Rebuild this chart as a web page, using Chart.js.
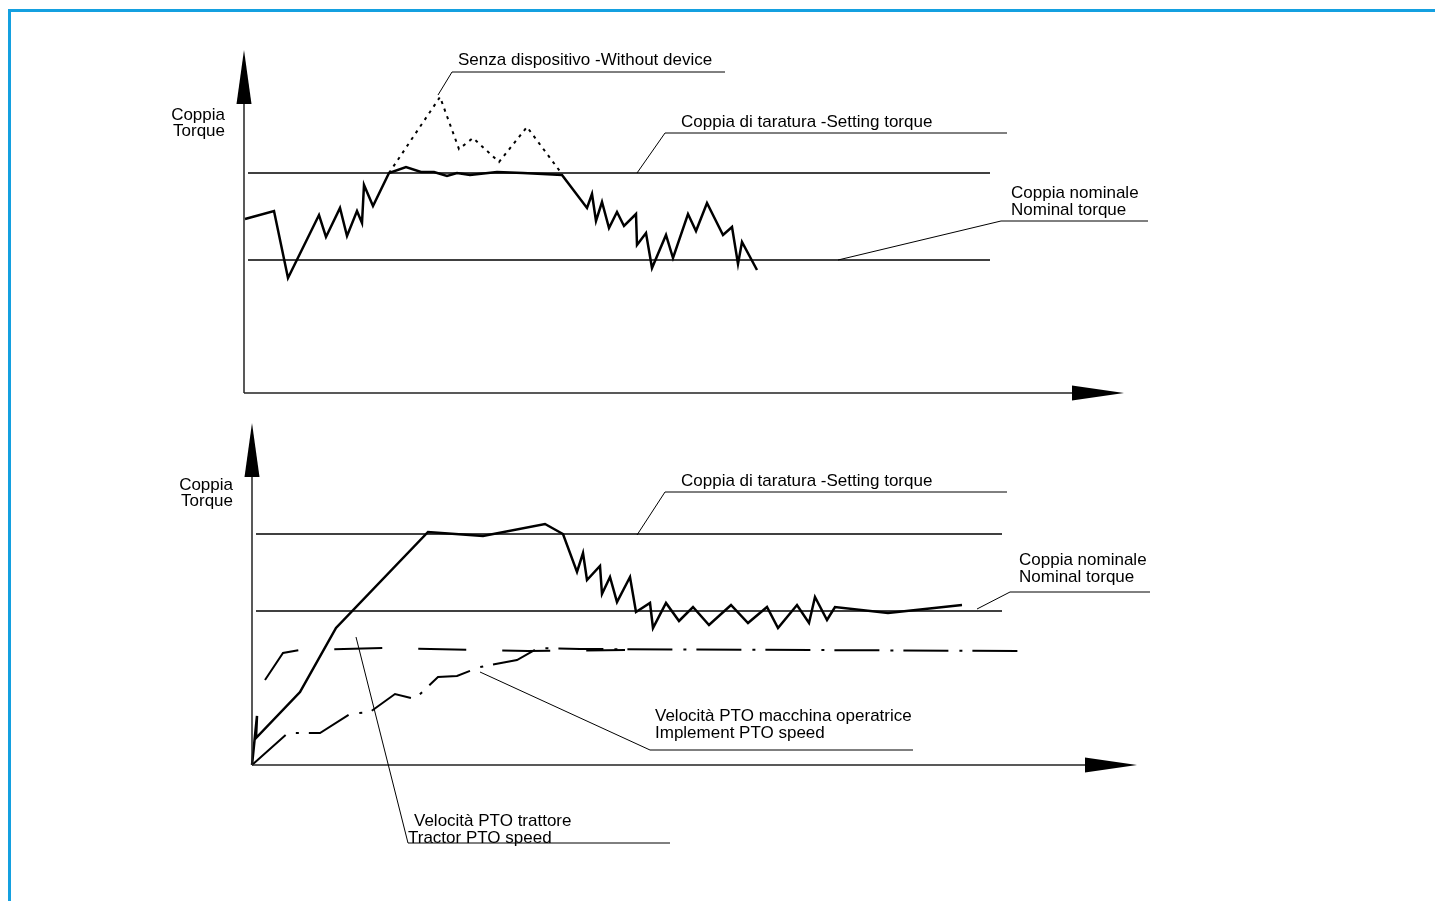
<!DOCTYPE html>
<html><head><meta charset="utf-8">
<script src="https://cdn.jsdelivr.net/npm/chart.js@4"></script>
<style>
html,body{margin:0;padding:0;background:#fff;width:1435px;height:901px;overflow:hidden;}
#frame{position:absolute;left:8px;top:9px;width:1427px;height:892px;border-top:3px solid #14a0e0;border-left:3px solid #14a0e0;box-sizing:border-box;}
canvas{position:absolute;left:0;top:0;}
</style></head><body>
<div id="frame"></div>
<canvas id="topChart" width="1435" height="901"></canvas>
<canvas id="bottomChart" width="1435" height="901"></canvas>
<script>
// ---------- DATA (arbitrary units: time from axis origin, torque / speed above axis) ----------
// Top panel: torque with the device (solid)
const topTime   = [1, 30, 44, 75, 82, 96, 103, 113, 118, 120, 129, 145, 162, 177, 190, 203, 213, 226, 253, 279, 318, 343, 348, 352, 358, 365, 373, 380, 392, 393, 402, 408, 422, 429, 444, 452, 463, 479, 488, 494, 498, 513];
const topTorque = [174, 182, 115, 178, 156, 185, 157, 182, 170, 208, 187, 220, 226, 221, 221, 217, 220, 218, 221, 220, 218, 185, 199, 172, 191, 165, 181, 167, 179, 148, 160, 125, 158, 135, 179, 162, 190, 158, 166, 129, 151, 123];
// Top panel: torque without device (dotted)
const noDeviceTime   = [145, 196, 215, 229, 255, 283, 318];
const noDeviceTorque = [220, 296, 244, 255, 231, 266, 219];
// Top panel reference torques
const topSettingTorque = 220;
const topNominalTorque = 133;
const topRefSpan = [4, 746];

// Bottom panel: torque (solid)
const bottomTime   = [0, 5, 4, 48, 84, 176, 231, 293, 311, 325, 331, 335, 348, 350, 358, 365, 378, 384, 398, 401, 414, 427, 441, 457, 479, 496, 515, 526, 545, 557, 563, 575, 583, 636, 710];
const bottomTorque = [0, 49, 27, 73, 137, 233, 229, 241, 231, 193, 212, 185, 199, 171, 188, 163, 188, 153, 162, 137, 162, 144, 158, 140, 160, 142, 158, 137, 160, 142, 168, 145, 158, 152, 160];
// Bottom panel: tractor PTO speed (long dashes)
const tractorTime  = [13, 31, 48, 131, 276, 373];
const tractorSpeed = [85, 112, 115, 117, 114, 115];
// Bottom panel: implement PTO speed (dash-dot)
const implementTime  = [0, 36, 68, 98, 118, 143, 163, 186, 205, 228, 265, 286, 328, 775];
const implementSpeed = [0, 32, 32, 51, 53, 71, 66, 88, 89, 98, 105, 117, 116, 114];
// Bottom panel reference torques
const bottomSettingTorque = 231;
const bottomNominalTorque = 154;
const bottomRefSpan = [4, 750];

// Texts
const axisLabel = ['Coppia', 'Torque'];
const labelNoDevice = ['Senza dispositivo -Without device'];
const labelSetting = ['Coppia di taratura -Setting torque'];
const labelNominal = ['Coppia nominale', 'Nominal torque'];
const labelImplement = ['Velocità PTO macchina operatrice', 'Implement PTO speed'];
const labelTractor = ['Velocità PTO trattore', 'Tractor PTO speed'];

// ---------- helpers ----------
const pts = (xs, ys) => xs.map((x, i) => ({x: x, y: ys[i]}));
const FONT = '17px "Liberation Sans", Arial, sans-serif';

function lineDs(data, width, dash) {
  return {data: data, showLine: true, borderColor: '#000', borderWidth: width,
    borderDash: dash || [], pointRadius: 0, pointHoverRadius: 0, fill: false, clip: false,
    borderJoinStyle: 'miter', borderCapStyle: 'butt', tension: 0};
}

function decoPlugin(deco) {
  return {
    id: 'deco',
    afterDatasetsDraw(chart) {
      const ctx = chart.ctx, xs = chart.scales.x, ys = chart.scales.y;
      const P = (t, v) => [xs.getPixelForValue(t), ys.getPixelForValue(v)];
      ctx.save();
      // axes with arrow heads
      const o = P(0, 0);
      const yTip = P(0, deco.yAxisEnd), xTip = P(deco.xAxisEnd, 0);
      ctx.strokeStyle = '#222'; ctx.fillStyle = '#000'; ctx.lineWidth = 1.5;
      ctx.beginPath(); ctx.moveTo(o[0], o[1]); ctx.lineTo(o[0], yTip[1] + 50); ctx.stroke();
      ctx.beginPath(); ctx.moveTo(o[0], o[1]); ctx.lineTo(xTip[0] - 50, o[1]); ctx.stroke();
      ctx.beginPath(); ctx.moveTo(o[0], yTip[1]); ctx.lineTo(o[0] - 7.5, yTip[1] + 54); ctx.lineTo(o[0] + 7.5, yTip[1] + 54); ctx.closePath(); ctx.fill();
      ctx.beginPath(); ctx.moveTo(xTip[0], o[1]); ctx.lineTo(xTip[0] - 52, o[1] - 7.5); ctx.lineTo(xTip[0] - 52, o[1] + 7.5); ctx.closePath(); ctx.fill();
      // leader lines
      ctx.strokeStyle = '#000'; ctx.lineWidth = 1;
      deco.leaders.forEach(l => {
        ctx.beginPath();
        l.forEach((p, i) => { const q = P(p[0], p[1]); if (i) ctx.lineTo(q[0], q[1]); else ctx.moveTo(q[0], q[1]); });
        ctx.stroke();
      });
      // texts
      ctx.font = FONT; ctx.fillStyle = '#000'; ctx.textBaseline = 'middle';
      deco.texts.forEach(tx => {
        ctx.textAlign = tx.align || 'left';
        tx.lines.forEach((s, i) => { const q = P(tx.at[i][0], tx.at[i][1]); ctx.fillText(s, q[0], q[1]); });
      });
      ctx.restore();
    }
  };
}

function makeChart(id, datasets, xr, yr, deco) {
  return new Chart(document.getElementById(id), {
    type: 'scatter',
    data: {datasets: datasets},
    options: {
      responsive: false, animation: false, devicePixelRatio: 1,
      layout: {padding: 0},
      events: [],
      scales: {
        x: {type: 'linear', min: xr[0], max: xr[1], display: false},
        y: {type: 'linear', min: yr[0], max: yr[1], display: false}
      },
      plugins: {legend: {display: false}, tooltip: {enabled: false}}
    },
    plugins: [decoPlugin(deco)]
  });
}

// ---------- top panel ----------
makeChart('topChart', [
  lineDs(pts(topRefSpan, [topSettingTorque, topSettingTorque]), 1.5),
  lineDs(pts(topRefSpan, [topNominalTorque, topNominalTorque]), 1.5),
  lineDs(pts(noDeviceTime, noDeviceTorque), 2, [3, 5]),
  lineDs(pts(topTime, topTorque), 2.5)
], [-244, 1191], [-508, 393], {
  xAxisEnd: 880, yAxisEnd: 343,
  leaders: [
    [[194, 298], [208, 321], [481, 321]],
    [[393, 220], [421, 260], [763, 260]],
    [[594, 133], [757, 172], [904, 172]]
  ],
  texts: [
    {lines: axisLabel, at: [[-19, 278], [-19, 262]], align: 'right'},
    {lines: labelNoDevice, at: [[214, 333]]},
    {lines: labelSetting, at: [[437, 271]]},
    {lines: labelNominal, at: [[767, 200], [767, 183]]}
  ]
});

// ---------- bottom panel ----------
makeChart('bottomChart', [
  lineDs(pts(bottomRefSpan, [bottomSettingTorque, bottomSettingTorque]), 1.5),
  lineDs(pts(bottomRefSpan, [bottomNominalTorque, bottomNominalTorque]), 1.5),
  lineDs(pts(tractorTime, tractorSpeed), 2, [48, 36]),
  lineDs(pts(implementTime, implementSpeed), 2, [45, 11, 3, 10]),
  lineDs(pts(bottomTime, bottomTorque), 2.5)
], [-252, 1183], [-136, 765], {
  xAxisEnd: 885, yAxisEnd: 342,
  leaders: [
    [[385, 230], [413, 273], [755, 273]],
    [[725, 156], [758, 173], [898, 173]],
    [[228, 93], [398, 15], [661, 15]],
    [[104, 128], [156, -78], [418, -78]]
  ],
  texts: [
    {lines: axisLabel, at: [[-19, 280], [-19, 264]], align: 'right'},
    {lines: labelSetting, at: [[429, 284]]},
    {lines: labelNominal, at: [[767, 205], [767, 188]]},
    {lines: labelImplement, at: [[403, 49], [403, 32]]},
    {lines: labelTractor, at: [[162, -56], [156, -73]]}
  ]
});
</script>
</body></html>
